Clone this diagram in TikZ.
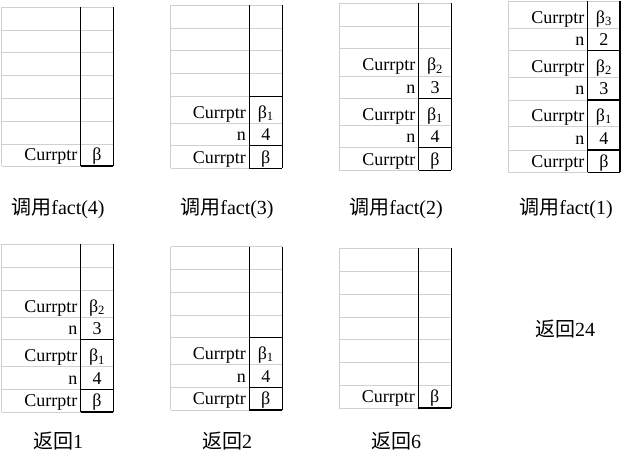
\documentclass[tikz,border=0pt]{standalone}
\usepackage{fontspec}
\setmainfont{Liberation Serif}
\newfontfamily\cjk{Noto Sans CJK SC}
\definecolor{gridgray}{RGB}{208,208,208}
\tikzset{
  gridline/.style={draw=gridgray, line width=1pt},
  blackline/.style={draw=black, line width=1.3pt},
  celltxt/.style={inner sep=0pt, font=\fontsize{18}{19}\selectfont},
  captxt/.style={inner sep=0pt, anchor=base, font=\fontsize{20}{22}\selectfont}
}
% #1 name, #2 xl, #3 xd, #4 xr, #5 ytop, #6 ybot, #7 all horizontal y's, #8 black y's, #9 cells ybottom/left/right
\newcommand{\stackpanel}[9]{%
  \foreach \yy in {#7} {\draw[gridline] (#2,\yy) -- (#4,\yy);}
  \draw[gridline] (#2,#5) -- (#2,#6);
  \draw[blackline] (#3,#5) -- (#3,#6);
  \draw[blackline] (#4,#5) -- (#4,#6);
  \foreach \yy in {#8} {\draw[blackline] (#3,\yy) -- (#4,\yy);}
  \foreach \yb/\lt/\rt [count=\k] in {#9} {
    \node[celltxt, anchor=base east] (#1l\k) at (#3-3.2,{\yb-5.3}) {\lt};
    \node[celltxt, anchor=base] (#1r\k) at ({(#3+#4)/2},{\yb-5.3}) {\rt};
  }
}
\begin{document}
\begin{tikzpicture}[x=1pt,y=-1pt]
\useasboundingbox (0,0) rectangle (623,464);
% panel 1
\stackpanel{pa}{1.5}{80.7}{113.3}{7}{166}
  {7,30,52,75,98,121,144,166}{166}
  {166/Currptr/β}
% panel 2
\stackpanel{pb}{170.7}{249.3}{282.3}{5}{168.3}
  {5,28.3,50.7,73.3,96.7,123.3,145.7,168.3}{96.7,145.7,168.3}
  {123.3/Currptr/β\textsubscript{1},145.7/n/4,168.3/Currptr/β}
% panel 3
\stackpanel{pc}{339.3}{418.7}{451.3}{3.3}{170.3}
  {3.3,26,48.7,76,98.7,125.7,147.3,170.3}{98.7,147.3,170.3}
  {76/Currptr/β\textsubscript{2},98.7/n/3,125.7/Currptr/β\textsubscript{1},147.3/n/4,170.3/Currptr/β}
% panel 4
\stackpanel{pd}{508.3}{587.7}{620}{1}{172.3}
  {1,28.3,50.7,77.3,100,126.7,150,172.3}{50.7,100,150,172.3}
  {28.3/Currptr/β\textsubscript{3},50.7/n/2,77.3/Currptr/β\textsubscript{2},100/n/3,126.7/Currptr/β\textsubscript{1},150/n/4,172.3/Currptr/β}
% panel 5
\stackpanel{pe}{1.7}{80.7}{113.3}{244.3}{412}
  {244.3,267.3,290.3,317.3,339.3,366.7,389.3,412}{339.3,389.3,412}
  {317.3/Currptr/β\textsubscript{2},339.3/n/3,366.7/Currptr/β\textsubscript{1},389.3/n/4,412/Currptr/β}
% panel 6
\stackpanel{pf}{170.7}{249.3}{282.3}{246.7}{410}
  {246.7,269.3,292.3,315,337.7,364.3,387.3,410}{337.7,387.3,410}
  {364.3/Currptr/β\textsubscript{1},387.3/n/4,410/Currptr/β}
% panel 7
\stackpanel{pg}{339.3}{418.3}{451.3}{248.3}{408}
  {248.3,271,294.3,317.3,339.7,362.3,385.3,408}{408}
  {408/Currptr/β}
% captions
\node[captxt] (ca) at (58,214) {{\cjk 调用}fact(4)};
\node[captxt] (cb) at (227,214) {{\cjk 调用}fact(3)};
\node[captxt] (cc) at (396,214) {{\cjk 调用}fact(2)};
\node[captxt] (cd) at (566,214) {{\cjk 调用}fact(1)};
\node[captxt] (ce) at (58,448) {{\cjk 返回}1};
\node[captxt] (cf) at (227,448) {{\cjk 返回}2};
\node[captxt] (cg) at (396,448) {{\cjk 返回}6};
\node[captxt] (ch) at (565,336) {{\cjk 返回}24};
\end{tikzpicture}
\end{document}
